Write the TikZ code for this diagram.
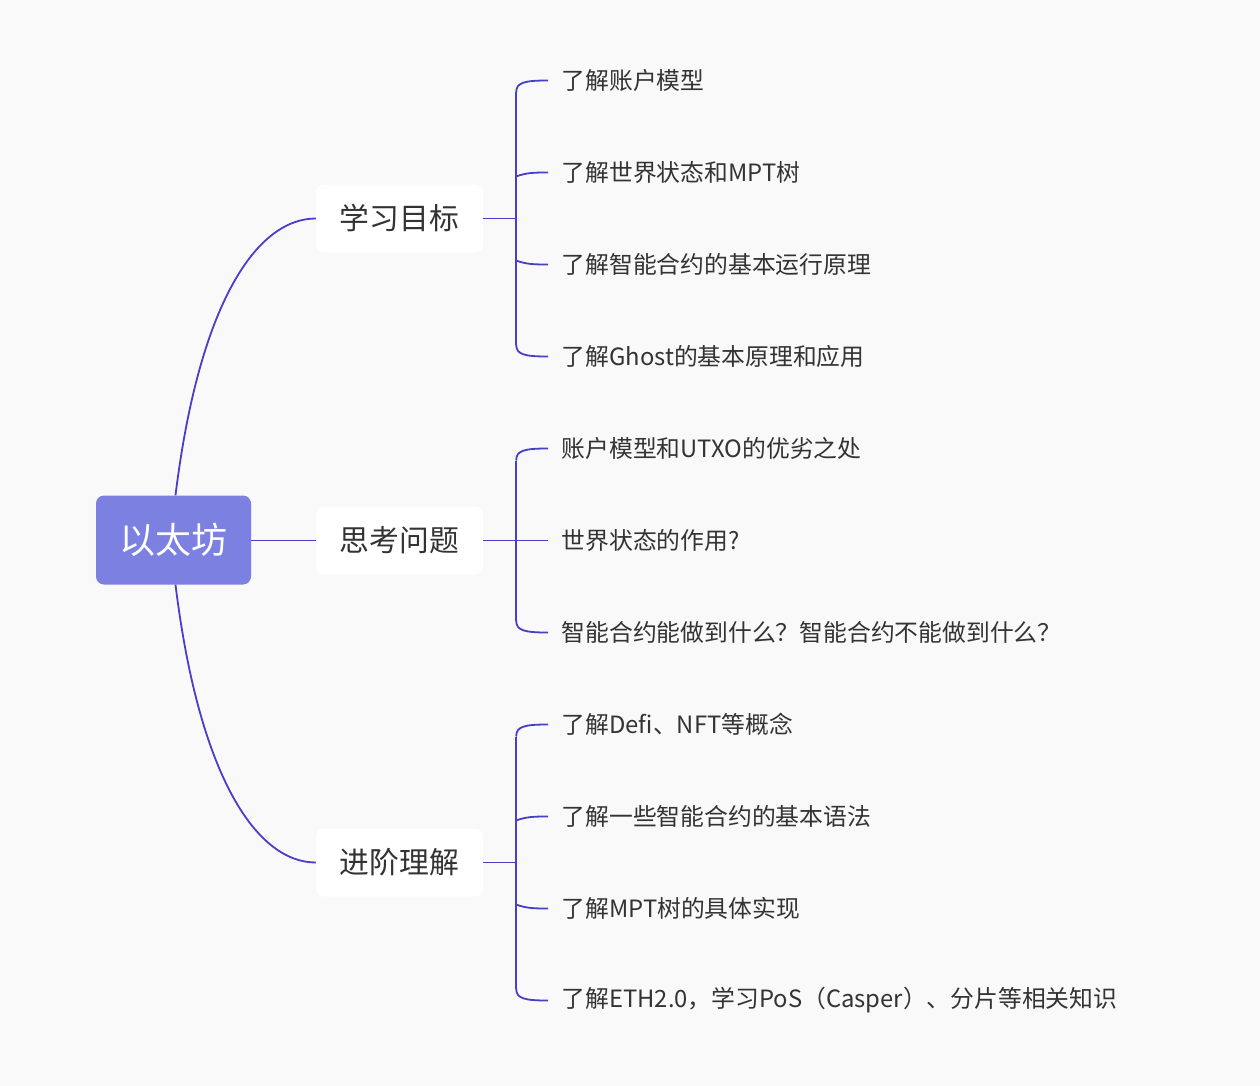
\documentclass[tikz,border=0pt]{standalone}
\usepackage{fontspec}
\setmainfont{Noto Sans CJK SC}
\usetikzlibrary{calc}

\definecolor{bgcol}{RGB}{249,249,249}
\definecolor{linkcol}{RGB}{72,62,200}
\definecolor{rootcol}{RGB}{124,128,225}
\definecolor{txtcol}{RGB}{51,51,51}

\tikzset{
  link/.style={draw=linkcol, line width=1.8pt},
  rootbox/.style={fill=rootcol, rounded corners=8pt, minimum width=155pt, minimum height=89pt, inner sep=0pt, text=white, font=\fontsize{36}{40}\selectfont},
  branchbox/.style={fill=white, rounded corners=8pt, minimum width=167pt, minimum height=68pt, inner sep=0pt, text=txtcol, font=\fontsize{29.8}{34}\selectfont},
  leaf/.style={anchor=west, inner xsep=13.5pt, inner ysep=0pt, text=txtcol, font=\fontsize{23.8}{28}\selectfont}
}

\begin{document}
\begin{tikzpicture}[x=1pt,y=-1pt]
\useasboundingbox (0,0) rectangle (1260,1086);
\fill[bgcol] (0,0) rectangle (1260,1086);

% root and branches
\node[rootbox] (root) at (173.5,540) {以太坊};
\node[branchbox] (goal) at (399.5,218.5) {学习目标};
\node[branchbox] (think) at (399.5,540.5) {思考问题};
\node[branchbox] (adv) at (399.5,862.5) {进阶理解};

% leaves
\node[leaf] (g1) at (548,80.5) {了解账户模型};
\node[leaf] (g2) at (548,172.5) {了解世界状态和MPT树};
\node[leaf] (g3) at (548,264.5) {了解智能合约的基本运行原理};
\node[leaf] (g4) at (548,356.5) {了解Ghost的基本原理和应用};
\node[leaf] (t1) at (548,448.5) {账户模型和UTXO的优劣之处};
\node[leaf] (t2) at (548,540.5) {世界状态的作用?};
\node[leaf] (t3) at (548,632.5) {智能合约能做到什么？智能合约不能做到什么？};
\node[leaf] (a1) at (548,724.5) {了解Defi、NFT等概念};
\node[leaf] (a2) at (548,816.5) {了解一些智能合约的基本语法};
\node[leaf] (a3) at (548,908.5) {了解MPT树的具体实现};
\node[leaf] (a4) at (548,1000.5) {了解ETH2.0，学习PoS（Casper）、分片等相关知识};

% root to branches
\draw[link] ([xshift=2pt]root.north) .. controls +(24,-195) and +(-58,0) .. (goal.west);
\draw[link] (root.east |- think.west) -- (think.west);
\draw[link] ([xshift=2pt]root.south) .. controls +(24,195) and +(-58,0) .. (adv.west);

% bar positions
\coordinate (goalbar) at ($(goal.east)+(33,0)$);
\coordinate (thinkbar) at ($(think.east)+(33,0)$);
\coordinate (advbar) at ($(adv.east)+(33,0)$);

% goal group
\draw[link] (goal.east) -- (goalbar);
\draw[link] ($(goalbar |- g1.west)+(0,12)$) -- ($(goalbar |- g4.west)+(0,-12)$);
\draw[link] ($(goalbar |- g1.west)+(0,12)$) .. controls +(0,-10) and +(-24,0) .. (g1.west);
\draw[link] ($(goalbar |- g2.west)+(0,4)$) .. controls +(10,-4) and +(-12,0) .. (g2.west);
\draw[link] ($(goalbar |- g3.west)+(0,-4)$) .. controls +(10,4) and +(-12,0) .. (g3.west);
\draw[link] ($(goalbar |- g4.west)+(0,-12)$) .. controls +(0,10) and +(-24,0) .. (g4.west);

% think group
\draw[link] (think.east) -- (t2.west);
\draw[link] ($(thinkbar |- t1.west)+(0,12)$) -- ($(thinkbar |- t3.west)+(0,-12)$);
\draw[link] ($(thinkbar |- t1.west)+(0,12)$) .. controls +(0,-10) and +(-24,0) .. (t1.west);
\draw[link] ($(thinkbar |- t3.west)+(0,-12)$) .. controls +(0,10) and +(-24,0) .. (t3.west);

% adv group
\draw[link] (adv.east) -- (advbar);
\draw[link] ($(advbar |- a1.west)+(0,12)$) -- ($(advbar |- a4.west)+(0,-12)$);
\draw[link] ($(advbar |- a1.west)+(0,12)$) .. controls +(0,-10) and +(-24,0) .. (a1.west);
\draw[link] ($(advbar |- a2.west)+(0,4)$) .. controls +(10,-4) and +(-12,0) .. (a2.west);
\draw[link] ($(advbar |- a3.west)+(0,-4)$) .. controls +(10,4) and +(-12,0) .. (a3.west);
\draw[link] ($(advbar |- a4.west)+(0,-12)$) .. controls +(0,10) and +(-24,0) .. (a4.west);

\end{tikzpicture}
\end{document}
